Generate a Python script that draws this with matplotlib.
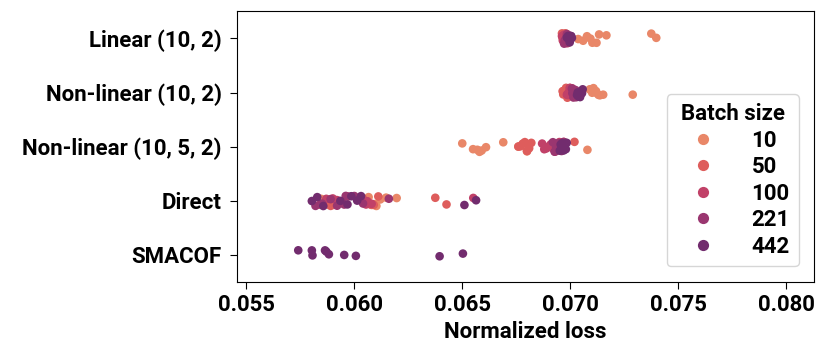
import numpy as np
import pandas as pd
import matplotlib
matplotlib.use("Agg")
import matplotlib.pyplot as plt
import seaborn as sns

# losses, 10 runs per batch size
methods = ["Linear (10, 2)", "Non-linear (10, 2)", "Non-linear (10, 5, 2)", "Direct", "SMACOF"]
batch_sizes = ["10", "50", "100", "221", "442"]

linear = {
    "10": [0.07037, 0.0706, 0.07078, 0.07094, 0.07103, 0.07122, 0.07134, 0.07168, 0.07376, 0.07399],
    "50": [0.06962, 0.06965, 0.06968, 0.0697, 0.06972, 0.06975, 0.06978, 0.0698, 0.06982, 0.06985],
    "100": [0.06962, 0.06966, 0.06969, 0.06971, 0.06973, 0.06976, 0.06979, 0.06981, 0.06984, 0.06987],
    "221": [0.06972, 0.06975, 0.06978, 0.0698, 0.06983, 0.06985, 0.06988, 0.0699, 0.06992, 0.06995],
    "442": [0.06985, 0.06988, 0.0699, 0.06993, 0.06995, 0.06998, 0.07, 0.07003, 0.07005, 0.07008],
}
nonlinear = {
    "10": [0.0709, 0.07095, 0.07102, 0.07108, 0.07117, 0.0712, 0.07131, 0.07138, 0.07153, 0.0729],
    "50": [0.06965, 0.06968, 0.0697, 0.06973, 0.06976, 0.06978, 0.06981, 0.06984, 0.06987, 0.0699],
    "100": [0.06985, 0.06988, 0.0699, 0.06993, 0.06995, 0.06998, 0.07, 0.07003, 0.07006, 0.07009],
    "221": [0.07008, 0.0701, 0.07013, 0.07015, 0.07018, 0.0702, 0.07023, 0.07025, 0.07028, 0.0703],
    "442": [0.07032, 0.07035, 0.07038, 0.0704, 0.07043, 0.07046, 0.07049, 0.07052, 0.07055, 0.07058],
}
nonlinear2 = {
    "10": [0.0650, 0.0655, 0.0657, 0.0658, 0.0659, 0.0661, 0.0669, 0.0676, 0.0680, 0.0708],
    "50": [0.0676, 0.0677, 0.0678, 0.0679, 0.0679, 0.0680, 0.0681, 0.0682, 0.0693, 0.0702],
    "100": [0.0687, 0.0688, 0.0689, 0.0690, 0.0691, 0.0692, 0.0693, 0.0694, 0.0695, 0.0697],
    "221": [0.0692, 0.06928, 0.06935, 0.0694, 0.06945, 0.0695, 0.06955, 0.0696, 0.06965, 0.0697],
    "442": [0.06952, 0.06956, 0.0696, 0.06963, 0.06966, 0.0697, 0.06973, 0.06976, 0.0698, 0.06984],
}
direct = {
    "10": [0.05846, 0.05896, 0.0590, 0.06066, 0.0608, 0.06093, 0.06102, 0.0612, 0.06147, 0.06196],
    "50": [0.05878, 0.0589, 0.05899, 0.0592, 0.0604, 0.06075, 0.0609, 0.06111, 0.06375, 0.06427],
    "100": [0.0584, 0.0587, 0.0590, 0.05919, 0.0594, 0.0597, 0.06054, 0.0606, 0.0608, 0.06551],
    "221": [0.0582, 0.0585, 0.0589, 0.0592, 0.05946, 0.05953, 0.0596, 0.0600, 0.0604, 0.0616],
    "442": [0.05803, 0.05828, 0.05856, 0.05935, 0.05968, 0.05986, 0.06013, 0.06031, 0.0651, 0.06564],
}
smacof = {
    "442": [0.0574, 0.05803, 0.05806, 0.05864, 0.0587, 0.05882, 0.05953, 0.06007, 0.06395, 0.06503],
}

rows = []
for method, d in zip(methods, [linear, nonlinear, nonlinear2, direct, smacof]):
    for bs, vals in d.items():
        for v in vals:
            rows.append((method, bs, v))
df = pd.DataFrame(rows, columns=["Method", "Batch size", "Normalized loss"])

sns.set_style("ticks")
plt.rcParams["font.family"] = ["Roboto", "DejaVu Sans"]
plt.rcParams["font.weight"] = "bold"
plt.rcParams["font.size"] = 16
plt.rcParams["text.color"] = "black"
plt.rcParams["axes.labelcolor"] = "black"
plt.rcParams["xtick.color"] = "black"
plt.rcParams["ytick.color"] = "black"

np.random.seed(3)
fig, ax = plt.subplots(figsize=(8.3, 3.57), dpi=100)
sns.stripplot(data=df, x="Normalized loss", y="Method", hue="Batch size",
              order=methods, hue_order=batch_sizes, palette="flare",
              size=6.2, jitter=True, ax=ax)

ax.set_xlim(0.05456, 0.08131)
ax.set_ylim(4.5, -0.5)
ax.set_xticks([0.055, 0.060, 0.065, 0.070, 0.075, 0.080])
ax.set_xticklabels(["0.055", "0.060", "0.065", "0.070", "0.075", "0.080"])
ax.set_ylabel("")
ax.set_xlabel("Normalized loss", fontsize=16, fontweight="bold")
ax.tick_params(labelsize=16, length=5)
ax.tick_params(axis="y", pad=6)
for s in ax.spines.values():
    s.set_visible(True)
    s.set_color("black")

leg = ax.legend(title="Batch size", loc="lower right", fontsize=16,
                title_fontsize=16, markerscale=1.3, handlelength=2.4,
                handletextpad=1.0, labelspacing=0.2, borderaxespad=0.7)
leg.get_title().set_fontweight("bold")

fig.subplots_adjust(left=0.2855, right=0.981, top=0.968, bottom=0.21)
fig.savefig("out.png", dpi=100)
